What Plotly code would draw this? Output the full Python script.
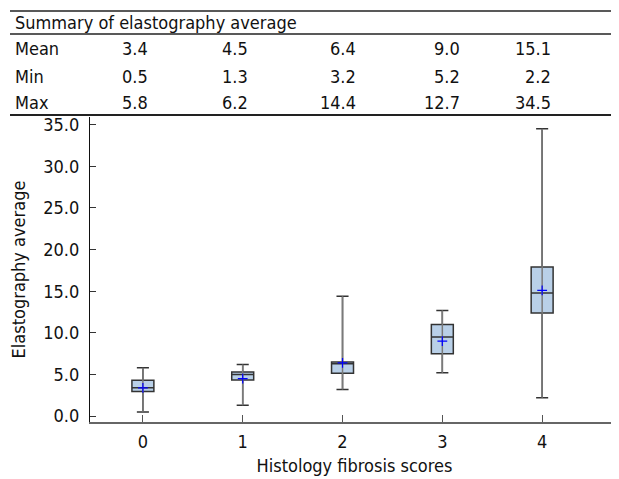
import plotly.graph_objects as go

categories = [0, 1, 2, 3, 4]
means = [3.4, 4.5, 6.4, 9.0, 15.1]
mins = [0.5, 1.3, 3.2, 5.2, 2.2]
maxs = [5.8, 6.2, 14.4, 12.7, 34.5]
q1s = [2.95, 4.35, 5.15, 7.5, 12.4]
medians = [3.4, 5.0, 6.3, 9.5, 14.8]
q3s = [4.3, 5.3, 6.5, 11.0, 17.9]

table_title = "Summary of elastography average"
row_labels = ["Mean", "Min", "Max"]
row_values = [means, mins, maxs]

FONT = "DejaVu Sans Condensed, DejaVu Sans, sans-serif"
FS = 18
OFF = 8  # page body margin in the browser
W, H = 619 - OFF, 479 - OFF
ML, MR, MT, MB = 90 - OFF, 0, 117 - OFF, 57
PW = W - ML - MR
PH = H - MT - MB


def px(x):
    # x given in window pixels
    return (x - OFF - ML) / PW


def py(y):
    # y given in window pixels
    return (H - MB - (y - OFF)) / PH


fig = go.Figure()

fig.add_trace(go.Box(
    x=categories,
    q1=q1s, median=medians, q3=q3s,
    lowerfence=mins, upperfence=maxs,
    width=0.22, whiskerwidth=0.55,
    fillcolor="#b9d0e8",
    line=dict(color="#333333", width=1.5),
    boxpoints=False,
    showlegend=False,
    hoverinfo="skip",
))

wx, wy = [], []
for c, lo, hi in zip(categories, mins, maxs):
    wx += [c, c, None]
    wy += [lo, hi, None]
fig.add_trace(go.Scatter(
    x=wx, y=wy, mode="lines",
    line=dict(color="#7a7a7a", width=1.5),
    showlegend=False, hoverinfo="skip",
))

fig.add_trace(go.Scatter(
    x=categories, y=means, mode="markers",
    marker=dict(symbol="cross-thin", size=7, line=dict(color="#0000ff", width=1.2)),
    showlegend=False, hoverinfo="skip",
))

shapes = []
for yy, wdt in [(11, 1.5), (34, 1.5), (115, 2)]:
    shapes.append(dict(type="line", xref="paper", yref="paper",
                       x0=px(10), x1=px(619), y0=py(yy), y1=py(yy),
                       line=dict(color="#222222", width=wdt)))

annotations = []
annotations.append(dict(text=table_title, xref="paper", yref="paper",
                        x=px(13), y=py(22), xanchor="left", yanchor="middle",
                        showarrow=False, font=dict(family=FONT, size=FS, color="#111111")))
row_y = [48.5, 76.5, 103]
col_right = [150, 250, 358, 462, 553]
for lbl, vals, ry in zip(row_labels, row_values, row_y):
    annotations.append(dict(text=lbl, xref="paper", yref="paper",
                            x=px(13), y=py(ry), xanchor="left", yanchor="middle",
                            showarrow=False, font=dict(family=FONT, size=FS, color="#111111")))
    for v, cx in zip(vals, col_right):
        annotations.append(dict(text=f"{v:.1f}", xref="paper", yref="paper",
                                x=px(cx), y=py(ry), xanchor="right", yanchor="middle",
                                showarrow=False, font=dict(family=FONT, size=FS, color="#111111")))

fig.update_layout(
    width=W, height=H,
    margin=dict(l=ML, r=MR, t=MT, b=MB, pad=0),
    paper_bgcolor="white", plot_bgcolor="white",
    font=dict(family=FONT, size=FS, color="#111111"),
    shapes=shapes, annotations=annotations,
    xaxis=dict(
        range=[-0.53, 4.77],
        tickvals=categories, ticktext=[str(c) for c in categories],
        ticks="inside", ticklen=7, tickcolor="#555555", tickwidth=1.2,
        showline=True, linecolor="#666666", linewidth=2,
        showgrid=False, zeroline=False,
        ticklabelstandoff=2,
        title=dict(text="Histology fibrosis scores", font=dict(size=FS), standoff=9),
    ),
    yaxis=dict(
        range=[-0.7, 35.92],
        tickvals=[0, 5, 10, 15, 20, 25, 30, 35],
        tickformat=".1f",
        ticks="inside", ticklen=6, tickcolor="#333333", tickwidth=1,
        showline=True, linecolor="#111111", linewidth=1.2,
        showgrid=False, zeroline=False,
        ticklabelstandoff=6,
        title=dict(text="Elastography average", font=dict(size=FS), standoff=12),
    ),
)

fig.write_html("out.html")
